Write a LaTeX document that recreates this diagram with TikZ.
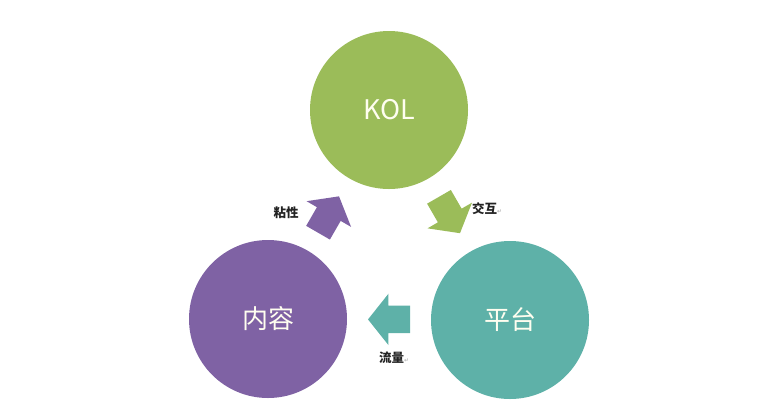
\documentclass[tikz,border=0pt]{standalone}
\usepackage{fontspec}
\newfontfamily\cjk{Noto Sans CJK SC}
\newfontfamily\symfont{DejaVu Sans}
\usepackage{tikz}
\usetikzlibrary{shapes.arrows,calc}
\definecolor{kolgreen}{RGB}{155,188,89}
\definecolor{nrpurple}{RGB}{127,98,164}
\definecolor{ptteal}{RGB}{94,177,168}
\definecolor{labelgray}{RGB}{35,35,35}
\newcommand{\parmark}{{\symfont\mdseries\fontsize{6}{6}\selectfont\color{gray!70}↵}}

\begin{document}
\begin{tikzpicture}[x=1pt, y=-1pt,
    bubble/.style={circle, minimum size=158pt, inner sep=0pt, outer sep=0pt, text=white!94!yellow, font=\cjk\fontsize{26}{26}\selectfont},
    flow/.style={single arrow, minimum height=42pt, inner xsep=0pt, inner ysep=13.5pt, single arrow head extend=12pt, single arrow tip angle=103, outer sep=0pt, anchor=tip},
    tag/.style={font=\cjk\bfseries\fontsize{12.5}{13}\selectfont, text=labelgray, inner sep=0pt}]
    \useasboundingbox (0,0) rectangle (757,400);

    % Cercles
    \node[bubble, fill=kolgreen] (kol) at (389,110) {\fontsize{27}{27}\selectfont KOL};
    \node[bubble, fill=nrpurple] (nr) at (268,319) {内容};
    \node[bubble, fill=ptteal] (pt) at (510,320) {平台};

    % Milieux
    \coordinate (m1) at ($(nr)!0.5!(kol)$);
    \coordinate (m2) at ($(kol)!0.5!(pt)$);
    \coordinate (m3) at ($(pt)!0.5!(nr)$);

    % Flèches
    \node[flow, fill=nrpurple, rotate=60] (nian) at ($(m1)!21pt!(kol)$) {};
    \node[flow, fill=kolgreen, rotate=-60] (jiao) at ($(m2)!21pt!(pt)$) {};
    \node[flow, fill=ptteal, rotate=180] (liu) at ($(m3)!21pt!(nr)$) {};

    % Textes
    \node[tag] (tnian) at (286,213) {粘性};
    \node[tag, anchor=west] (tjiao) at (472,209) {交互\parmark};
    \node[tag, anchor=west] (tliu) at (379,358) {流量\parmark};
\end{tikzpicture}
\end{document}
